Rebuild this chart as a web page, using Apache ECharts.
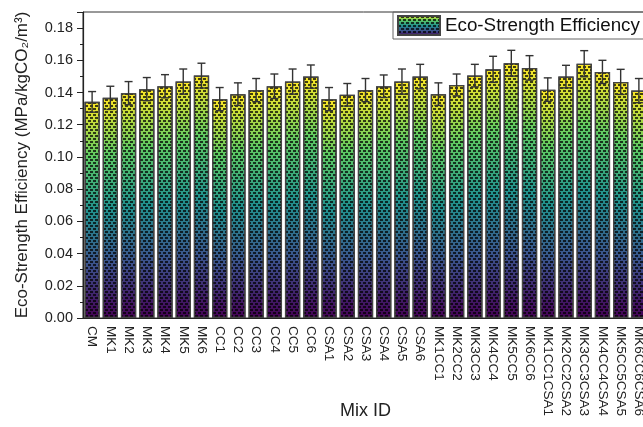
<!DOCTYPE html>
<html>
<head>
<meta charset="utf-8">
<script src="https://cdn.jsdelivr.net/npm/echarts@6/dist/echarts.min.js"></script>
<style>html,body{margin:0;padding:0;background:#fff}#c{width:643px;height:427px}</style>
</head>
<body>
<div id="c"></div>
<script>
const categories = ['CM','MK1','MK2','MK3','MK4','MK5','MK6','CC1','CC2','CC3','CC4','CC5','CC6',
  'CSA1','CSA2','CSA3','CSA4','CSA5','CSA6','MK1CC1','MK2CC2','MK3CC3','MK4CC4','MK5CC5','MK6CC6',
  'MK1CC1CSA1','MK2CC2CSA2','MK3CC3CSA3','MK4CC4CSA4','MK5CC5CSA5','MK6CC6CSA6'];
const efficiency = [0.1342,0.1367,0.1396,0.1421,0.1439,0.1468,0.1505,0.1359,0.1390,0.1415,0.1439,0.1468,0.1499,
  0.1359,0.1386,0.1415,0.1439,0.1468,0.1499,0.1390,0.1447,0.1505,0.1544,0.1582,0.1553,
  0.1418,0.1499,0.1579,0.1528,0.1466,0.1412];
const errors = [0.0064,0.0072,0.0072,0.0072,0.0072,0.0078,0.0077,0.0072,0.0070,0.0072,0.0076,0.0078,0.0072,
  0.0072,0.0070,0.0072,0.0070,0.0078,0.0076,0.0070,0.0068,0.0070,0.0081,0.0080,0.0076,
  0.0073,0.0070,0.0081,0.0072,0.0078,0.0075];
const seriesName = 'Eco-Strength Efficiency';

const chart = echarts.init(document.getElementById('c'));
const viridis = new echarts.graphic.LinearGradient(0, 0, 0, 1, [
  {offset: 0, color: '#fde725'},
  {offset: 0.25, color: '#5ec962'},
  {offset: 0.5, color: '#21918c'},
  {offset: 0.75, color: '#3b528b'},
  {offset: 1, color: '#440154'}
]);
const font = 'Liberation Sans, Arial, sans-serif';
chart.setOption({
  animation: false,
  textStyle: {fontFamily: font},
  grid: {left: 83, top: 12, right: -5, bottom: 109, containLabel: false, outerBoundsMode: 'none',
    show: true, borderColor: '#333', borderWidth: 1},
  legend: {
    data: [{name: seriesName, icon: 'rect'}],
    left: 393, top: 12,
    padding: [3, 6, 3, 4],
    borderColor: '#666', borderWidth: 1,
    itemWidth: 42, itemHeight: 19, itemGap: 6,
    textStyle: {fontSize: 18.8, color: '#111', fontFamily: font}
  },
  xAxis: {
    type: 'category',
    data: categories,
    name: 'Mix ID',
    nameLocation: 'middle',
    nameGap: 84,
    nameMoveOverlap: false,
    nameTextStyle: {fontSize: 18, color: '#222'},
    axisLine: {lineStyle: {color: '#222', width: 1.2}},
    axisTick: {alignWithLabel: true, length: 5, lineStyle: {color: '#222'}},
    axisLabel: {rotate: -90, fontSize: 13.5, color: '#222', margin: 8, interval: 0}
  },
  yAxis: {
    type: 'value',
    min: 0, max: 0.19, interval: 0.02,
    name: 'Eco-Strength Efficiency (MPa/kgCO\u2082/m\u00b3)',
    nameLocation: 'middle',
    nameGap: 52,
    nameMoveOverlap: false,
    nameTextStyle: {fontSize: 17, color: '#222'},
    axisLine: {show: true, lineStyle: {color: '#222', width: 1.2}},
    axisTick: {show: true, inside: false, length: 6, lineStyle: {color: '#222'}},
    minorTick: {show: true, splitNumber: 2, length: 3, lineStyle: {color: '#222'}},
    splitLine: {show: false},
    axisLabel: {fontSize: 14.5, color: '#222', margin: 10, showMaxLabel: false,
      formatter: v => v.toFixed(2)}
  },
  series: [
    {
      name: seriesName,
      type: 'bar',
      data: efficiency,
      barCategoryGap: '16%',
      itemStyle: {
        color: viridis,
        borderColor: '#444',
        borderWidth: 1.3,
        decal: {
          symbol: 'rect',
          symbolSize: 1,
          color: 'rgba(0,0,0,0.72)',
          dashArrayX: [[3, 2], [1, 2, 2, 0]],
          dashArrayY: [2, 1]
        }
      }
    },
    {
      name: 'err',
      type: 'custom',
      data: efficiency.map((v, i) => [i, v, errors[i]]),
      z: 10,
      renderItem: function (params, api) {
        const i = api.value(0), v = api.value(1), e = api.value(2);
        const hi = api.coord([i, v + e]);
        const lo = api.coord([i, v - e]);
        const hw = 4;
        const st = {stroke: '#333', lineWidth: 1.4};
        return {type: 'group', children: [
          {type: 'line', shape: {x1: hi[0], y1: hi[1], x2: lo[0], y2: lo[1]}, style: st},
          {type: 'line', shape: {x1: hi[0] - hw, y1: hi[1], x2: hi[0] + hw, y2: hi[1]}, style: st},
          {type: 'line', shape: {x1: lo[0] - hw, y1: lo[1], x2: lo[0] + hw, y2: lo[1]}, style: st}
        ]};
      }
    }
  ]
});
</script>
</body>
</html>
